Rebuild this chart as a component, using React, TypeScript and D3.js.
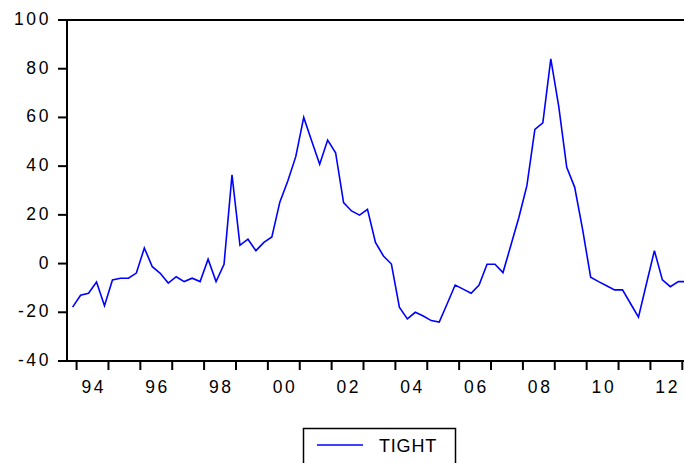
import React, { useEffect, useRef } from 'react';
import * as d3 from 'd3';

// quarterly series, 1993Q4 .. 2013Q1
const startYear = 1993;
const startQuarter = 4;
const tight = [
  -17.9, -13.0, -12.2, -7.6, -17.3, -6.7, -6.0, -6.0, -3.9, 6.4,
  -1.3, -4.0, -8.0, -5.4, -7.4, -6.0, -7.4, 1.8, -7.4, -0.3,
  36.4, 7.5, 10.0, 5.3, 8.7, 10.9, 25.2, 33.9, 43.9, 60.0,
  50.3, 40.8, 50.7, 45.5, 25.0, 21.6, 19.9, 22.3, 8.7, 3.1,
  -0.2, -17.9, -22.7, -20.0, -21.5, -23.4, -24.0, -16.5, -8.8, -10.5,
  -12.2, -8.8, -0.3, -0.3, -3.7, 7.6, 19.0, 32.0, 55.1, 57.8,
  84.0, 64.4, 39.5, 31.3, 13.8, -5.6, -7.4, -9.1, -10.8, -10.8,
  -16.4, -22.0, -8.3, 5.3, -6.7, -9.5, -7.4, -7.4,
];
const yTicks = [-40, -20, 0, 20, 40, 60, 80, 100];
const yearLabels = ['94', '96', '98', '00', '02', '04', '06', '08', '10', '12'];
const seriesName = 'TIGHT';

const App = () => {
  const ref = useRef<SVGSVGElement>(null);

  useEffect(() => {
    document.body.style.margin = '0';
    const width = 684;
    const height = 463;
    const left = 67, top = 20, bottom = 361, right = 690;
    const n = tight.length;

    const x = d3.scaleLinear().domain([0, n - 1]).range([72.6, 72.6 + (n - 1) * 7.97]);
    const y = d3.scaleLinear().domain([-40, 100]).range([bottom, top]);

    // index of first Q1 observation
    const firstQ1 = (5 - startQuarter) % 4;
    const years = d3.range(startYear + (startQuarter === 1 ? 0 : 1), startYear + 1 + Math.ceil(n / 4));

    const svg = d3.select(ref.current);
    svg.selectAll('*').remove();

    const font = "Arial, 'Liberation Sans', sans-serif";

    svg.append('defs').append('clipPath').attr('id', 'plotclip')
      .append('rect').attr('x', left).attr('y', top).attr('width', right - left).attr('height', bottom - top);

    // series line
    const line = d3.line<number>().x((d, i) => x(i)).y(d => y(d));
    svg.append('path')
      .datum(tight)
      .attr('clip-path', 'url(#plotclip)')
      .attr('fill', 'none')
      .attr('stroke', '#0000ff')
      .attr('stroke-width', 1.6)
      .attr('stroke-linejoin', 'miter')
      .attr('d', line);

    // frame
    svg.append('rect')
      .attr('x', left).attr('y', top)
      .attr('width', right - left).attr('height', bottom - top)
      .attr('fill', 'none').attr('stroke', 'black').attr('stroke-width', 2);

    // y axis
    const yg = svg.append('g');
    yTicks.forEach(t => {
      yg.append('line')
        .attr('x1', left - 9).attr('x2', left)
        .attr('y1', y(t)).attr('y2', y(t))
        .attr('stroke', 'black').attr('stroke-width', 2);
      yg.append('text')
        .attr('x', 51).attr('y', y(t) + 5)
        .attr('text-anchor', 'end')
        .attr('font-family', font).attr('font-size', 17.5)
        .attr('letter-spacing', 2.6)
        .attr('fill', 'black')
        .text(t);
    });

    // x axis: ticks at year boundaries, labels centred on every other year
    const xg = svg.append('g');
    years.forEach((yr, k) => {
      const i = firstQ1 + k * 4 - 0.5;
      if (x(i) > width) return;
      xg.append('line')
        .attr('x1', x(i)).attr('x2', x(i))
        .attr('y1', bottom).attr('y2', bottom + 9)
        .attr('stroke', 'black').attr('stroke-width', 2);
    });
    yearLabels.forEach((lab, k) => {
      const i = firstQ1 + k * 8 + 1.5;
      xg.append('text')
        .attr('x', x(i) + 1.3).attr('y', 393)
        .attr('text-anchor', 'middle')
        .attr('font-family', font).attr('font-size', 17.5)
        .attr('letter-spacing', 2.6)
        .attr('fill', 'black')
        .text(lab);
    });

    // legend
    const lg = svg.append('g');
    lg.append('rect')
      .attr('x', 303.5).attr('y', 428.5).attr('width', 152).attr('height', 40)
      .attr('fill', 'white').attr('stroke', 'black').attr('stroke-width', 1.5);
    lg.append('line')
      .attr('x1', 317).attr('x2', 363).attr('y1', 445).attr('y2', 445)
      .attr('stroke', '#0000ff').attr('stroke-width', 1.6);
    lg.append('text')
      .attr('x', 379).attr('y', 451.5)
      .attr('font-family', font).attr('font-size', 18)
      .attr('letter-spacing', 0.8)
      .attr('fill', 'black')
      .text(seriesName);
  }, []);

  return (
    <svg
      ref={ref}
      width={684}
      height={463}
      style={{ position: 'absolute', left: 0, top: 0, background: 'white', display: 'block' }}
    />
  );
};

export default App;
